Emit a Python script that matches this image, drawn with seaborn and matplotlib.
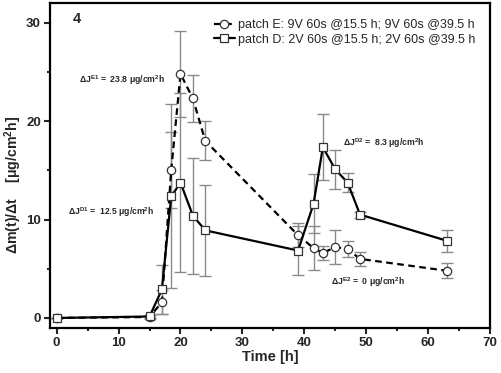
import numpy as np
import pandas as pd
import matplotlib
matplotlib.use("Agg")
import matplotlib.pyplot as plt
import seaborn as sns
from matplotlib.ticker import MultipleLocator
from matplotlib.lines import Line2D

# ---- data ----
time_h = [0, 15, 17, 18.5, 20, 22, 24, 39, 41.5, 43, 45, 47, 49, 63]
flux_E = [0.0, 0.1, 1.6, 15.0, 24.8, 22.3, 18.0, 8.4, 7.1, 6.6, 7.2, 7.0, 6.0, 4.8]
err_E = [0.0, 0.2, 1.2, 3.85, 4.4, 2.4, 2.0, 1.2, 2.2, 0.7, 1.7, 0.8, 0.75, 0.75]
flux_D = [0.0, 0.15, 2.9, 12.35, 13.75, 10.4, 8.9, 6.85, 11.6, 17.35, 15.1, 13.75, 10.5, 7.85]
err_D = [0.0, 0.2, 2.5, 9.35, 9.1, 5.9, 4.6, 2.5, 3.0, 3.35, 2.0, 0.95, 0.3, 1.1]

label_E = "patch E: 9V 60s @15.5 h; 9V 60s @39.5 h"
label_D = "patch D: 2V 60s @15.5 h; 2V 60s @39.5 h"

ann_text = [r"ΔJ$^{\mathbf{E1}}$ =  23.8 μg/cm$^{\mathbf{2}}$h",
            r"ΔJ$^{\mathbf{D1}}$ =  12.5 μg/cm$^{\mathbf{2}}$h",
            r"ΔJ$^{\mathbf{D2}}$ =  8.3 μg/cm$^{\mathbf{2}}$h",
            r"ΔJ$^{\mathbf{E2}}$ =  0 μg/cm$^{\mathbf{2}}$h"]
ann_x = [3.6, 1.8, 46.3, 44.3]
ann_y = [24.2, 10.7, 17.8, 3.6]

sns.set_theme(style="ticks")
plt.rcParams['font.family'] = ['Liberation Sans', 'DejaVu Sans']
plt.rcParams['mathtext.fontset'] = 'custom'
plt.rcParams['mathtext.bf'] = 'Liberation Sans:bold'
plt.rcParams['mathtext.rm'] = 'Liberation Sans:bold'

fig = plt.figure(figsize=(5.01, 3.73), dpi=100)
ax = fig.add_axes([50/501, 45/373, 440/501, 325/373])

err_color = "#8a8a8a"
ax.errorbar(time_h, flux_E, yerr=err_E, fmt="none", ecolor=err_color,
            elinewidth=1.0, capsize=4, capthick=1.0, zorder=1)
ax.errorbar(time_h, flux_D, yerr=err_D, fmt="none", ecolor=err_color,
            elinewidth=1.0, capsize=4, capthick=1.0, zorder=1)

df = pd.DataFrame({"t": time_h, "E": flux_E, "D": flux_D})
sns.lineplot(data=df, x="t", y="E", ax=ax, color="black", linestyle=(0, (3, 2)),
             linewidth=1.6, marker="o", markersize=6, markerfacecolor="white",
             markeredgecolor="#333333", markeredgewidth=0.9, zorder=3)
sns.lineplot(data=df, x="t", y="D", ax=ax, color="black", linestyle="-",
             linewidth=1.6, marker="s", markersize=6, markerfacecolor="white",
             markeredgecolor="#333333", markeredgewidth=0.9, zorder=3)

ax.set_xlim(-1.08, 70)
ax.set_ylim(-1.02, 32)
ax.xaxis.set_major_locator(MultipleLocator(10))
ax.xaxis.set_minor_locator(MultipleLocator(5))
ax.yaxis.set_major_locator(MultipleLocator(10))
ax.yaxis.set_minor_locator(MultipleLocator(5))
ax.tick_params(which="major", direction="out", length=4, width=1.5, labelsize=9.5, pad=2.5)
ax.tick_params(which="minor", direction="out", length=2.5, width=1.5)
for lab in ax.get_xticklabels() + ax.get_yticklabels():
    lab.set_fontweight("bold")
for sp in ax.spines.values():
    sp.set_linewidth(1.6)
    sp.set_color("black")
    sp.set_visible(True)

ax.set_xlabel("Time [h]", fontsize=10.5, fontweight="bold", labelpad=1)
ax.set_ylabel(r"Δm(t)/Δt    [μg/cm$^{\mathbf{2}}$h]", fontsize=10.2, fontweight="bold")
ax.yaxis.set_label_coords(-0.06, 0.44)

for t, xx, yy in zip(ann_text, ann_x, ann_y):
    ax.text(xx, yy, t, fontsize=6.2, fontweight="bold", ha="left", va="center")

ax.text(2.6, 30.4, "4", fontsize=10.5, fontweight="bold", ha="left", va="center")

handles = [Line2D([], [], color="black", linestyle=(0, (3, 2)), linewidth=1.6, marker="o",
                  markersize=6, markerfacecolor="white", markeredgecolor="#333333", markeredgewidth=0.9),
           Line2D([], [], color="black", linestyle="-", linewidth=1.6, marker="s",
                  markersize=6, markerfacecolor="white", markeredgecolor="#333333", markeredgewidth=0.9)]
ax.legend(handles, [label_E, label_D], loc="upper left", bbox_to_anchor=(214/501, 1 - 19/373),
          bbox_transform=fig.transFigure, frameon=False, fontsize=9, handlelength=1.65,
          handletextpad=0.3, labelspacing=0.2, borderpad=0, borderaxespad=0)

fig.savefig("out.png", dpi=100)
